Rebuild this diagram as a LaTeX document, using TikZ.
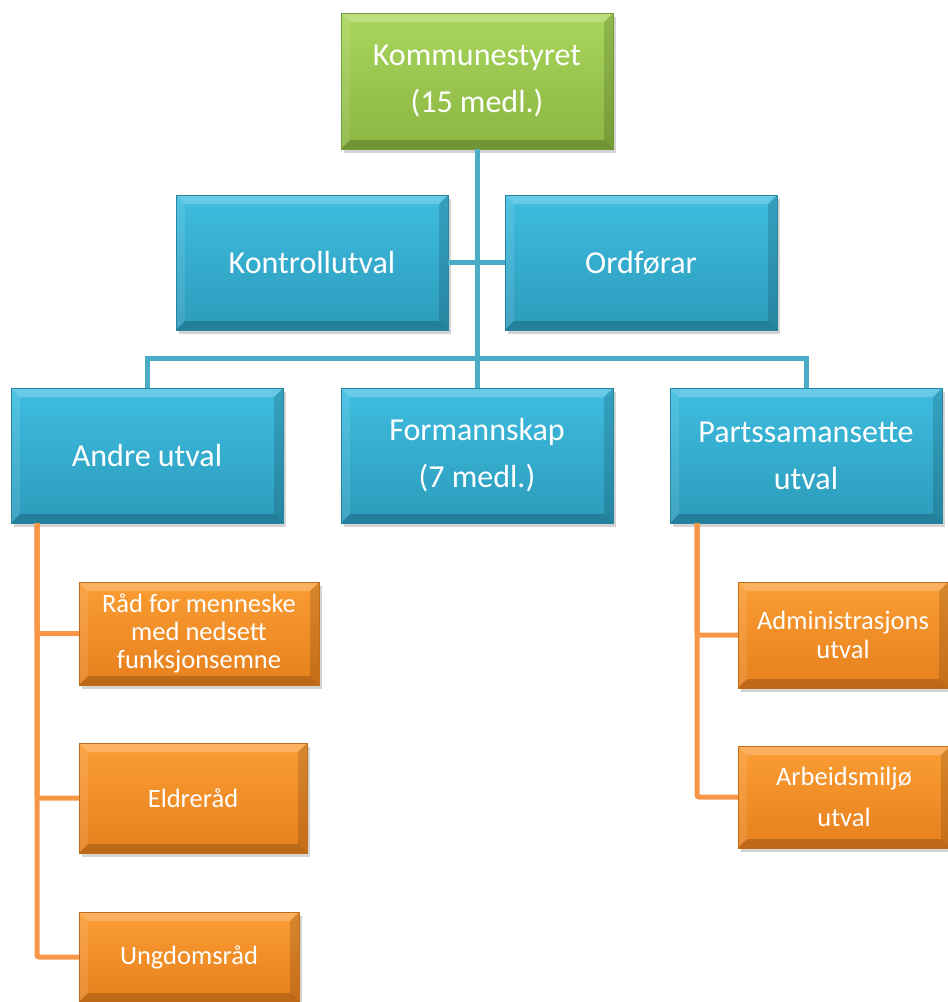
\documentclass[tikz,border=0pt]{standalone}
\usepackage{fontspec}
\setmainfont{Carlito}
\usetikzlibrary{shadows,calc}
\definecolor{gtop}{HTML}{A9D65C}
\definecolor{gbot}{HTML}{8AB642}
\definecolor{btop}{HTML}{3EBDE0}
\definecolor{bbot}{HTML}{2C9BBB}
\definecolor{otop}{HTML}{FB9D33}
\definecolor{obot}{HTML}{E6801D}
\definecolor{bline}{HTML}{4BACC6}
\definecolor{oline}{HTML}{F79646}
\tikzset{
  bevel/.style={path picture={
    \fill[white,opacity=0.22] (path picture bounding box.north west) -- (path picture bounding box.north east)
      -- ([xshift=-#1,yshift=-#1]path picture bounding box.north east) -- ([xshift=#1,yshift=-#1]path picture bounding box.north west) -- cycle;
    \fill[white,opacity=0.10] (path picture bounding box.north west) -- (path picture bounding box.south west)
      -- ([xshift=#1,yshift=#1]path picture bounding box.south west) -- ([xshift=#1,yshift=-#1]path picture bounding box.north west) -- cycle;
    \fill[black,opacity=0.18] (path picture bounding box.south west) -- (path picture bounding box.south east)
      -- ([xshift=-#1,yshift=#1]path picture bounding box.south east) -- ([xshift=#1,yshift=#1]path picture bounding box.south west) -- cycle;
    \fill[black,opacity=0.14] (path picture bounding box.north east) -- (path picture bounding box.south east)
      -- ([xshift=-#1,yshift=#1]path picture bounding box.south east) -- ([xshift=-#1,yshift=-#1]path picture bounding box.north east) -- cycle;
  }},
  basebox/.style={rectangle, inner sep=0pt, text=white, align=center,
    drop shadow={shadow xshift=3pt, shadow yshift=-4pt, opacity=0.35}, bevel=9pt},
  greenbox/.style={basebox, top color=gtop, bottom color=gbot, draw=gbot!85!black, line width=0.4pt,
    minimum width=272pt, minimum height=136pt, font=\fontsize{32}{47}\selectfont},
  bluebox/.style={basebox, top color=btop, bottom color=bbot, draw=bbot!85!black, line width=0.4pt,
    minimum width=272pt, minimum height=135pt, font=\fontsize{32}{47}\selectfont},
  orangebox/.style={basebox, top color=otop, bottom color=obot, draw=obot!85!black, line width=0.4pt,
    font=\fontsize{26.5}{29.5}\selectfont},
  bconn/.style={draw=bline, line width=5pt},
  oconn/.style={draw=oline, line width=5pt, rounded corners=2pt},
}
\begin{document}
\begin{tikzpicture}[x=1pt,y=-1pt]
\useasboundingbox (0,0) rectangle (948,1002);
\clip (0,0) rectangle (948,1002);
\coordinate (bus) at (476,358);
\coordinate (aspine) at (37,523);
\coordinate (pspine) at (697,523);
% boxes
\node[greenbox] (ks) at (477,81) {Kommunestyret\\(15 medl.)};
\node[bluebox] (kontroll) at (312,262.5) {Kontrollutval};
\node[bluebox] (ordf) at (641,262.5) {Ordførar};
\node[bluebox] (andre) at (147,455.5) {Andre utval};
\node[bluebox] (form) at (477,455.5) {Formannskap\\(7 medl.)};
\node[bluebox] (parts) at (806,455.5) {Partssamansette\\utval};
\node[orangebox, minimum width=240pt, minimum height=103pt, font=\fontsize{26.5}{28}\selectfont] (raad) at (199,633.5) {Råd for menneske\\med nedsett\\funksjonsemne};
\node[orangebox, minimum width=228pt, minimum height=110pt] (eldre) at (193,798) {Eldreråd};
\node[orangebox, minimum width=220pt, minimum height=90pt] (ungdom) at (189,957) {Ungdomsråd};
\node[orangebox, minimum width=210pt, minimum height=106pt] (adm) at (843,635) {Administrasjons\\utval};
\node[orangebox, minimum width=212pt, minimum height=102pt, font=\fontsize{26.5}{41}\selectfont] (arb) at (844,797) {Arbeidsmiljø\\utval};
% connectors
\path[bconn] (ks.south) -- (form.north);
\path[bconn] (kontroll.east) -- (ordf.west);
\path[bconn] (andre.north) |- (bus) -| (parts.north);
\path[oconn] (aspine) |- (raad.west);
\path[oconn] (aspine) |- (eldre.west);
\path[oconn] (aspine) |- (ungdom.west);
\path[oconn] (pspine) |- (adm.west);
\path[oconn] (pspine) |- (arb.west);
\end{tikzpicture}
\end{document}
